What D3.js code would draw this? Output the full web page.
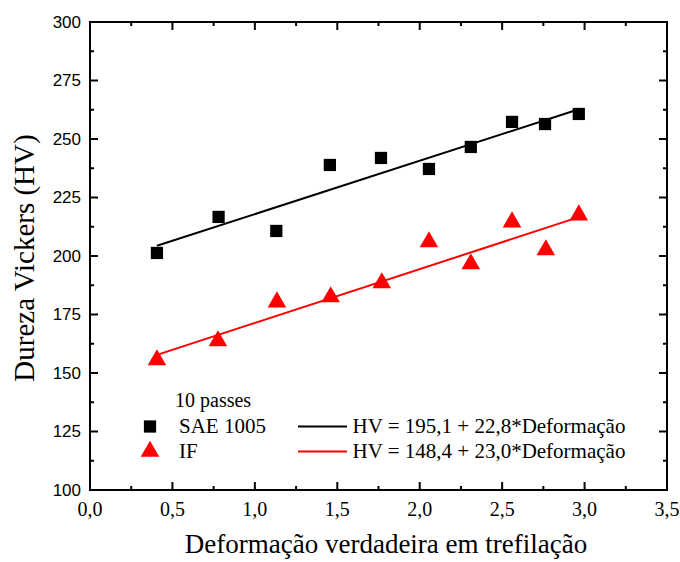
<!DOCTYPE html>
<html>
<head>
<meta charset="utf-8">
<script src="https://cdn.jsdelivr.net/npm/d3@7"></script>
<style>
body { margin: 0; background: #fff; }
svg { display: block; }
</style>
</head>
<body>
<div id="chart"></div>
<script>
// DATA
var defSAE = [0.406, 0.78, 1.13, 1.455, 1.765, 2.056, 2.31, 2.56, 2.76, 2.965];
var hvSAE = [201.3, 216.7, 210.7, 238.9, 241.9, 237.2, 246.6, 257.3, 256.4, 260.7];
var defIF = [0.406, 0.776, 1.134, 1.46, 1.77, 2.056, 2.31, 2.56, 2.765, 2.965];
var hvIF = [155.6, 163.7, 180.3, 182.5, 188.5, 206.0, 196.6, 214.5, 202.6, 217.5];
var fitSAE = {a: 195.1, b: 22.8};
var fitIF = {a: 148.4, b: 23.0};
var xTicks = [0, 0.5, 1, 1.5, 2, 2.5, 3, 3.5];
var yTicks = [100, 125, 150, 175, 200, 225, 250, 275, 300];
var legendTitle = "10 passes";
var seriesNames = ["SAE 1005", "IF"];
var fitLabels = ["HV = 195,1 + 22,8*Deformação", "HV = 148,4 + 23,0*Deformação"];

var W = 680, H = 562;
var margin = {top: 22, right: 13, bottom: 72, left: 90};
var width = W - margin.left - margin.right,
    height = H - margin.top - margin.bottom;

var serif = "'Liberation Serif', 'Times New Roman', Times, serif";
var sans = "'Liberation Sans', Arial, Helvetica, sans-serif";

var svg = d3.select("#chart").append("svg")
  .attr("width", W).attr("height", H);

var g = svg.append("g")
  .attr("transform", `translate(${margin.left}, ${margin.top})`);

var x = d3.scaleLinear().domain([0, 3.5]).range([0, width]);
var y = d3.scaleLinear().domain([100, 300]).range([height, 0]);

var fmt = function(d) { return d3.format(".1f")(d).replace(".", ","); };

// minor ticks
var xMinor = d3.range(0.25, 3.5, 0.5);
var yMinor = d3.range(112.5, 300, 25);

function tickLines(sel, vals, isX, len, side) {
  vals.forEach(function(v) {
    if (isX) {
      var px = x(v);
      var y0 = side === "bottom" ? height : 0;
      var dir = side === "bottom" ? -1 : 1;
      sel.append("line").attr("x1", px).attr("x2", px)
        .attr("y1", y0).attr("y2", y0 + dir * len);
    } else {
      var py = y(v);
      var x0 = side === "left" ? 0 : width;
      var dir2 = side === "left" ? 1 : -1;
      sel.append("line").attr("y1", py).attr("y2", py)
        .attr("x1", x0).attr("x2", x0 + dir2 * len);
    }
  });
}

var ticks = g.append("g").attr("stroke", "#000").attr("stroke-width", 2);
tickLines(ticks, xTicks, true, 8, "bottom");
tickLines(ticks, xTicks, true, 8, "top");
tickLines(ticks, xMinor, true, 4, "bottom");
tickLines(ticks, xMinor, true, 4, "top");
tickLines(ticks, yTicks, false, 8, "left");
tickLines(ticks, yTicks, false, 8, "right");
tickLines(ticks, yMinor, false, 4, "left");
tickLines(ticks, yMinor, false, 4, "right");

// FRAME
g.append("rect")
  .attr("x", 0).attr("y", 0)
  .attr("width", width).attr("height", height)
  .attr("fill", "none").attr("stroke", "#000").attr("stroke-width", 2);

// TICK LABELS
g.selectAll(".xlab").data(xTicks).enter().append("text")
  .attr("x", function(d) { return x(d); })
  .attr("y", height + 26)
  .attr("text-anchor", "middle")
  .style("font-family", serif)
  .style("font-size", "20px")
  .text(fmt);

g.selectAll(".ylab").data(yTicks).enter().append("text")
  .attr("x", -9)
  .attr("y", function(d) { return y(d); })
  .attr("dy", "0.35em")
  .attr("text-anchor", "end")
  .style("font-family", sans)
  .style("font-size", "17px")
  .text(function(d) { return d; });

// AXIS TITLES
svg.append("text")
  .attr("x", 386)
  .attr("y", 553)
  .attr("text-anchor", "middle")
  .style("font-family", serif)
  .style("font-size", "27px")
  .text("Deformação verdadeira em trefilação");

svg.append("text")
  .attr("transform", `translate(34, 258) rotate(-90)`)
  .attr("text-anchor", "middle")
  .style("font-family", serif)
  .style("font-size", "29px")
  .text("Dureza Vickers (HV)");

// FIT LINES
function fitLine(xs, fit, color) {
  var x0 = d3.min(xs), x1 = d3.max(xs);
  g.append("line")
    .attr("x1", x(x0)).attr("y1", y(fit.a + fit.b * x0))
    .attr("x2", x(x1)).attr("y2", y(fit.a + fit.b * x1))
    .attr("stroke", color).attr("stroke-width", 2);
}
fitLine(defSAE, fitSAE, "#000");
fitLine(defIF, fitIF, "#ff0000");

// MARKERS
var sq = d3.symbol().type(d3.symbolSquare).size(150);
var tri = d3.symbol().type(d3.symbolTriangle).size(150);

g.selectAll(".sae").data(defSAE).enter().append("path")
  .attr("d", sq)
  .attr("transform", function(d, i) { return `translate(${x(d)}, ${y(hvSAE[i])})`; })
  .attr("fill", "#000");

g.selectAll(".if").data(defIF).enter().append("path")
  .attr("d", tri)
  .attr("transform", function(d, i) { return `translate(${x(d)}, ${y(hvIF[i])})`; })
  .attr("fill", "#ff0000");

// LEGEND
var leg = svg.append("g");
leg.append("text").attr("x", 175).attr("y", 407)
  .style("font-family", serif).style("font-size", "20px").text(legendTitle);

var legRows = [{y: 426.5, color: "#000", sym: sq}, {y: 451.5, color: "#ff0000", sym: tri}];
legRows.forEach(function(r, i) {
  leg.append("path").attr("d", r.sym)
    .attr("transform", `translate(150, ${r.y})`).attr("fill", r.color);
  leg.append("text").attr("x", 179).attr("y", r.y + 6.8)
    .style("font-family", serif).style("font-size", "21px").text(seriesNames[i]);
  leg.append("line").attr("x1", 298).attr("x2", 347)
    .attr("y1", r.y).attr("y2", r.y)
    .attr("stroke", r.color).attr("stroke-width", 2);
  leg.append("text").attr("x", 352.5).attr("y", r.y + 6.8)
    .style("font-family", serif).style("font-size", "21px").text(fitLabels[i]);
});
</script>
</body>
</html>
